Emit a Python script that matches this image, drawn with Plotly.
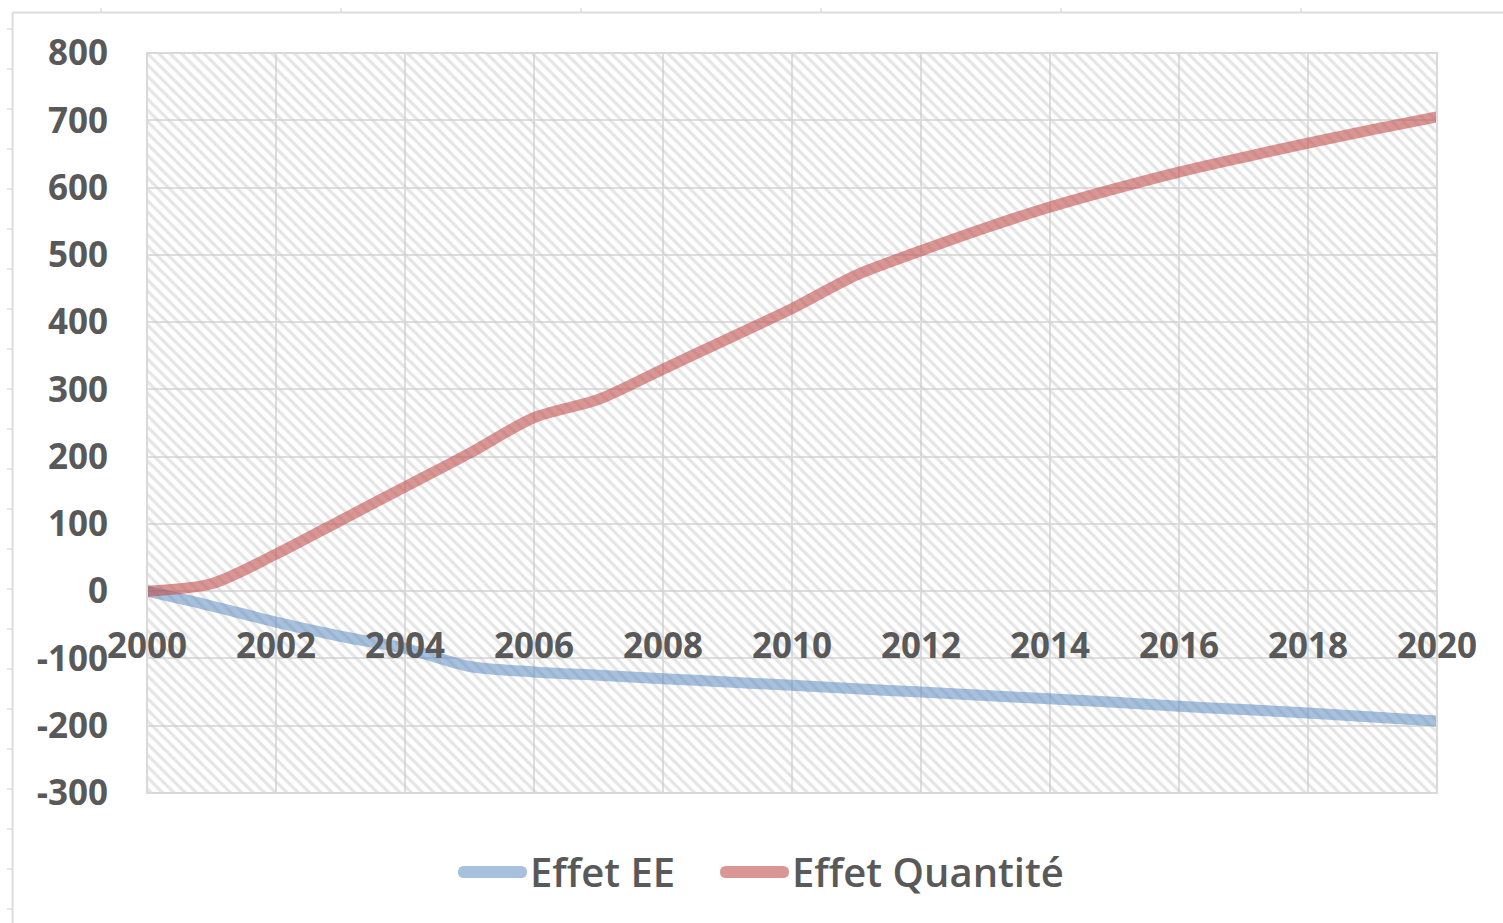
import plotly.graph_objects as go

# --- data -----------------------------------------------------------------
years = list(range(2000, 2021))
effet_ee = [0, -22, -46, -67, -85, -112, -120, -125, -130, -135, -140,
            -145, -150, -155, -160, -165, -171, -176, -181, -187, -193]
effet_quantite = [0, 11, 55, 105, 155, 205, 258, 285, 330, 375, 420,
                  470, 506, 540, 571, 598, 623, 645, 666, 686, 705]
x_tickvals = list(range(2000, 2021, 2))
y_tickvals = list(range(-300, 801, 100))
y_ticktext = [str(v) for v in y_tickvals]      # plain hyphen for negatives
series_names = ["Effet EE", "Effet Quantité"]

X_RANGE = [2000, 2020]
Y_RANGE = [-300, 800]

# --- geometry / style ------------------------------------------------------
W, H = 1503, 923
PL, PR, PT, PB = 147, 1437, 53, 793          # plot area in pixels
FONT = "Open Sans"
TXT = "#595959"
GRID = "#dedede"
BLUE = "rgba(79,129,189,0.5)"
RED = "rgba(192,80,77,0.6)"


def px_x(p):
    return (p - PL) / (PR - PL)


def px_y(p):
    return (PB - p) / (PB - PT)


fig = go.Figure()

# hatched plot background
fig.add_trace(go.Scatter(
    x=[X_RANGE[0], X_RANGE[1], X_RANGE[1], X_RANGE[0], X_RANGE[0]],
    y=[Y_RANGE[0], Y_RANGE[0], Y_RANGE[1], Y_RANGE[1], Y_RANGE[0]],
    mode="lines", line=dict(width=0, color="rgba(0,0,0,0)"),
    fill="toself", fillcolor="rgba(0,0,0,0)",
    fillpattern=dict(shape="\\", fgcolor="#cccccc", bgcolor="rgba(0,0,0,0)",
                     size=8, solidity=0.4),
    hoverinfo="skip", showlegend=False,
))

fig.add_trace(go.Scatter(
    x=years, y=effet_ee, name=series_names[0], mode="lines",
    line=dict(color=BLUE, width=11, shape="spline", smoothing=0.8),
    showlegend=False,
))
fig.add_trace(go.Scatter(
    x=years, y=effet_quantite, name=series_names[1], mode="lines",
    line=dict(color=RED, width=11, shape="spline", smoothing=0.8),
    showlegend=False,
))

shapes = [
    # plot-area border
    dict(type="rect", xref="paper", yref="paper", x0=0, x1=1, y0=0, y1=1,
         line=dict(color="#d9d9d9", width=2), layer="above"),
    # outer frame
    dict(type="line", xref="paper", yref="paper",
         x0=px_x(12.5), x1=px_x(12.5), y0=px_y(12.5), y1=px_y(930),
         line=dict(color="#dcdcdc", width=2)),
    dict(type="line", xref="paper", yref="paper",
         x0=px_x(12.5), x1=px_x(1510), y0=px_y(12.5), y1=px_y(12.5),
         line=dict(color="#dcdcdc", width=2)),
]
# small ruler marks on the frame
for yy in range(29, 923, 40):
    shapes.append(dict(type="line", xref="paper", yref="paper",
                       x0=px_x(7), x1=px_x(12), y0=px_y(yy), y1=px_y(yy),
                       line=dict(color="#d0d0d0", width=1)))
for xx in range(101, 1503, 240):
    shapes.append(dict(type="line", xref="paper", yref="paper",
                       x0=px_x(xx), x1=px_x(xx), y0=px_y(8), y1=px_y(12),
                       line=dict(color="#d0d0d0", width=1)))

# legend keys: rounded bars
cap_path = "M6,-6 L63,-6 Q69,-6 69,0 Q69,6 63,6 L6,6 Q0,6 0,0 Q0,-6 6,-6 Z"
legend_keys = [(458, BLUE, 528), (720, RED, 790)]
annotations = []
for (kx, col, tx), name in zip(legend_keys, series_names):
    shapes.append(dict(type="path", xref="paper", yref="paper",
                       xsizemode="pixel", ysizemode="pixel",
                       xanchor=px_x(kx), yanchor=px_y(872),
                       path=cap_path, fillcolor=col, line=dict(width=0)))
    annotations.append(dict(
        xref="paper", yref="paper", x=px_x(tx), y=px_y(872),
        xanchor="left", yanchor="middle", showarrow=False, text=name,
        font=dict(family=FONT, size=40, color=TXT, weight=600)))

zero_pos = (0 - Y_RANGE[0]) / (Y_RANGE[1] - Y_RANGE[0])

fig.update_layout(
    width=W, height=H,
    margin=dict(l=PL, r=W - PR, t=PT, b=H - PB, pad=0),
    paper_bgcolor="white", plot_bgcolor="white",
    showlegend=False,
    shapes=shapes, annotations=annotations,
    xaxis=dict(
        range=X_RANGE, tickvals=x_tickvals, ticktext=[str(v) for v in x_tickvals],
        anchor="free", position=zero_pos,
        showgrid=True, gridcolor=GRID, gridwidth=2,
        zeroline=False, showline=False, ticks="",
        ticklabelstandoff=31,
        tickfont=dict(family=FONT, size=35, color=TXT, weight=700),
    ),
    yaxis=dict(
        range=Y_RANGE, tickvals=y_tickvals, ticktext=y_ticktext,
        showgrid=True, gridcolor=GRID, gridwidth=2,
        zeroline=False, showline=False, ticks="",
        ticklabelstandoff=38,
        tickfont=dict(family=FONT, size=35, color=TXT, weight=700),
    ),
)

fig.write_html("out.html")
